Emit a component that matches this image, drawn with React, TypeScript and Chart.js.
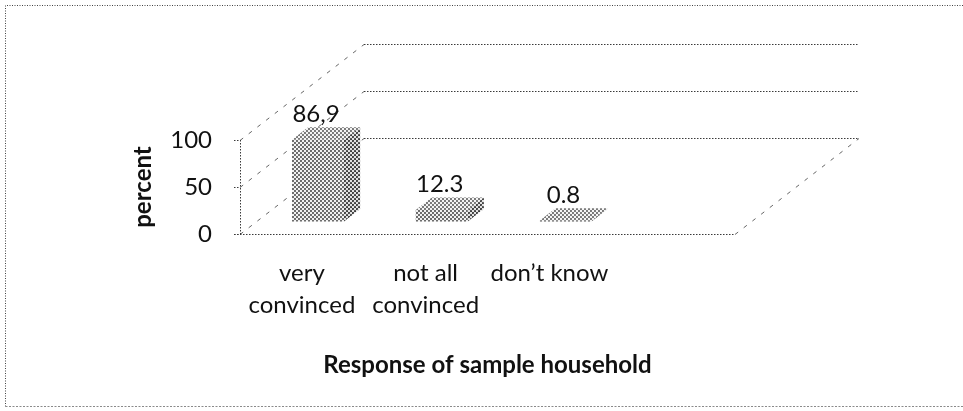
import { useEffect, useRef } from "react";
import { Chart, registerables } from "chart.js";

Chart.register(...registerables);

// Survey responses (percent of sample households); the fourth slot is an empty category.
const categories: (string | string[])[] = [["very", "convinced"], ["not all", "convinced"], "don\u2019t know", ""];
const percentValues: (number | null)[] = [86.9, 12.3, 0.8, null];
const valueLabels = ["86,9", "12.3", "0.8", ""];
const yTicks = [0, 50, 100];

const W = 963;
const H = 411;
const FONT = "Lato, 'Open Sans', sans-serif";

// depth of the box, and where the bars sit inside it (fractions of the depth)
const DEPTH_X = 124;
const DEPTH_Y = -96;
const BAR_FRONT = 0.13;
const BAR_BACK = 0.26;

function dotPattern(ctx: CanvasRenderingContext2D, bg: string, dot: string, r: number) {
  const c = document.createElement("canvas");
  c.width = 4;
  c.height = 4;
  const g = c.getContext("2d")!;
  g.fillStyle = bg;
  g.fillRect(0, 0, 4, 4);
  g.fillStyle = dot;
  g.beginPath();
  g.arc(1, 1, r, 0, Math.PI * 2);
  g.arc(3, 3, r, 0, Math.PI * 2);
  g.fill();
  return ctx.createPattern(c, "repeat")!;
}

const boxPlugin = {
  id: "box3d",
  beforeDraw(chart: any) {
    const ctx: CanvasRenderingContext2D = chart.ctx;
    ctx.save();
    ctx.fillStyle = "#ffffff";
    ctx.fillRect(0, 0, chart.width, chart.height);
    // dotted frame around the whole figure
    ctx.strokeStyle = "#444444";
    ctx.lineWidth = 1;
    ctx.setLineDash([1, 1.5]);
    ctx.beginPath();
    ctx.moveTo(5.5, H - 4.5);
    ctx.lineTo(5.5, 5.5);
    ctx.lineTo(W, 5.5);
    ctx.stroke();
    ctx.strokeStyle = "#8a8a8a";
    ctx.setLineDash([2, 1.5]);
    ctx.beginPath();
    ctx.moveTo(5.5, H - 4.5);
    ctx.lineTo(W, H - 4.5);
    ctx.stroke();
    ctx.restore();
  },
  beforeDatasetsDraw(chart: any) {
    const ctx: CanvasRenderingContext2D = chart.ctx;
    const { left, right } = chart.chartArea;
    const y = chart.scales.y;
    const y0 = y.getPixelForValue(0);
    const yTop = y.getPixelForValue(yTicks[yTicks.length - 1]);
    ctx.save();
    ctx.lineWidth = 1;

    // side wall diagonals
    ctx.strokeStyle = "#666666";
    ctx.setLineDash([4, 7]);
    for (const v of yTicks) {
      const py = Math.round(y.getPixelForValue(v)) + 0.5;
      ctx.beginPath();
      ctx.moveTo(left, py);
      ctx.lineTo(left + DEPTH_X, py + DEPTH_Y);
      ctx.stroke();
    }
    // right edge of the floor
    ctx.beginPath();
    ctx.moveTo(right, Math.round(y0) + 0.5);
    ctx.lineTo(right + DEPTH_X, Math.round(y0) + 0.5 + DEPTH_Y);
    ctx.stroke();

    // back wall gridlines
    ctx.strokeStyle = "#3a3a3a";
    ctx.setLineDash([1.5, 1.5]);
    for (const v of yTicks) {
      const py = Math.round(y.getPixelForValue(v) + DEPTH_Y) + 0.5;
      ctx.beginPath();
      ctx.moveTo(left + DEPTH_X, py);
      ctx.lineTo(right + DEPTH_X, py);
      ctx.stroke();
    }

    // front floor edge, value axis line and tick marks
    const fy = Math.round(y0) + 0.5;
    ctx.beginPath();
    ctx.moveTo(left - 6, fy);
    ctx.lineTo(right, fy);
    ctx.stroke();
    ctx.beginPath();
    ctx.moveTo(left + 0.5, yTop);
    ctx.lineTo(left + 0.5, y0);
    ctx.stroke();
    for (const v of yTicks) {
      const py = Math.round(y.getPixelForValue(v)) + 0.5;
      ctx.beginPath();
      ctx.moveTo(left - 6, py);
      ctx.lineTo(left, py);
      ctx.stroke();
    }
    ctx.restore();
  },
  afterDatasetsDraw(chart: any) {
    const ctx: CanvasRenderingContext2D = chart.ctx;
    const meta = chart.getDatasetMeta(0);
    const frontPat = dotPattern(ctx, "#f2f2f2", "#404040", 1.0);
    const sidePat = dotPattern(ctx, "#e2e2e2", "#333333", 1.05);
    const topPat = dotPattern(ctx, "#f4f4f4", "#4a4a4a", 0.95);
    const fdx = BAR_FRONT * DEPTH_X;
    const fdy = BAR_FRONT * DEPTH_Y;
    const ddx = (BAR_BACK - BAR_FRONT) * DEPTH_X;
    const ddy = (BAR_BACK - BAR_FRONT) * DEPTH_Y;
    ctx.save();
    meta.data.forEach((bar: any, i: number) => {
      if (percentValues[i] == null) return;
      const { x, y, base, width } = bar.getProps(["x", "y", "base", "width"], true);
      const l = x - width / 2 + fdx;
      const r = x + width / 2 + fdx;
      const t = y + fdy;
      const b = base + fdy;

      // right side
      ctx.fillStyle = sidePat;
      ctx.beginPath();
      ctx.moveTo(r, t);
      ctx.lineTo(r + ddx, t + ddy);
      ctx.lineTo(r + ddx, b + ddy);
      ctx.lineTo(r, b);
      ctx.closePath();
      ctx.fill();
      // top
      ctx.fillStyle = topPat;
      ctx.beginPath();
      ctx.moveTo(l, t);
      ctx.lineTo(l + ddx, t + ddy);
      ctx.lineTo(r + ddx, t + ddy);
      ctx.lineTo(r, t);
      ctx.closePath();
      ctx.fill();
      // front
      ctx.fillStyle = frontPat;
      ctx.fillRect(l, t, r - l, Math.max(b - t, 0.8));

      // value label
      ctx.fillStyle = "#111111";
      ctx.font = `24px ${FONT}`;
      ctx.textAlign = "center";
      ctx.textBaseline = "middle";
      ctx.fillText(valueLabels[i], x + fdx - 2, t + ddy - 13);
    });
    ctx.restore();
  },
};

export default function App() {
  const canvasRef = useRef<HTMLCanvasElement | null>(null);

  useEffect(() => {
    document.body.style.margin = "0";
    const canvas = canvasRef.current;
    if (!canvas) return;
    const chart = new Chart(canvas, {
      type: "bar",
      data: {
        labels: categories,
        datasets: [
          {
            data: percentValues,
            backgroundColor: "rgba(0,0,0,0)",
            borderWidth: 0,
            barPercentage: 0.42,
            categoryPercentage: 1,
          },
        ],
      },
      options: {
        responsive: false,
        animation: false,
        devicePixelRatio: 1,
        layout: { padding: { top: 140, right: 228, left: 0, bottom: 0 } },
        plugins: {
          legend: { display: false },
          tooltip: { enabled: false },
        },
        scales: {
          x: {
            grid: { display: false, drawTicks: false, tickLength: 0 },
            border: { display: false },
            ticks: {
              autoSkip: false,
              maxRotation: 0,
              padding: 24,
              color: "#111111",
              font: { family: FONT, size: 24, lineHeight: 1.3 },
            },
            title: {
              display: true,
              text: "Response of sample household",
              color: "#111111",
              font: { family: FONT, size: 24, weight: "bold" },
              padding: { top: 0, bottom: 31 },
            },
            afterFit: (scale: any) => {
              scale.height = 177;
            },
          },
          y: {
            min: 0,
            max: 100,
            grid: { display: false, drawTicks: false, tickLength: 0 },
            border: { display: false },
            afterBuildTicks: (scale: any) => {
              scale.ticks = yTicks.map((v) => ({ value: v }));
            },
            ticks: {
              padding: 28,
              color: "#111111",
              font: { family: FONT, size: 24 },
            },
            title: {
              display: true,
              text: "percent",
              color: "#111111",
              font: { family: FONT, size: 24, weight: "bold" },
              padding: { top: 129, bottom: 0 },
            },
            afterFit: (scale: any) => {
              scale.width = 240;
            },
          },
        },
      },
      plugins: [boxPlugin],
    });
    return () => chart.destroy();
  }, []);

  return (
    <div style={{ width: W, height: H }}>
      <canvas ref={canvasRef} width={W} height={H} style={{ display: "block", width: W, height: H }} />
    </div>
  );
}
